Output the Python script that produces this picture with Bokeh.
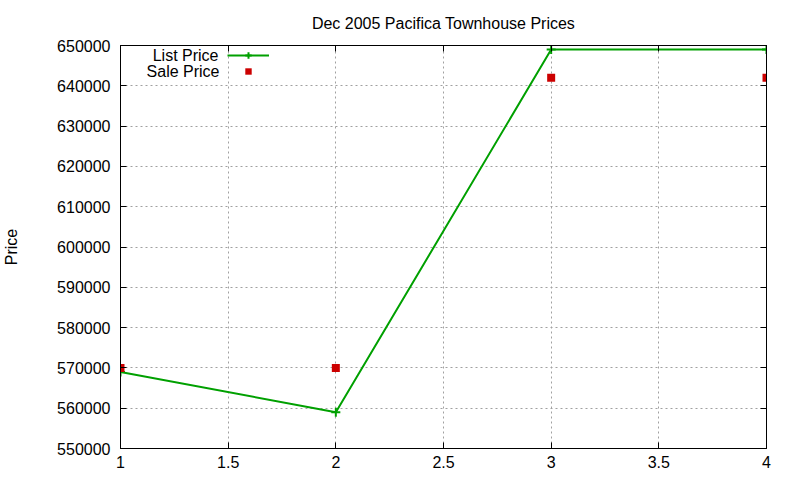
from bokeh.plotting import figure
from bokeh.models import (LinearAxis, FixedTicker, Legend, LegendItem, Label,
                          CustomJSTickFormatter, Range1d)
from bokeh.embed import file_html
from bokeh.resources import INLINE

# ---- data ----
positions = [1, 2, 3, 4]
list_price = [569000, 559000, 649000, 649000]
sale_price = [570000, 570000, 642000, 642000]

x_ticks = [1, 1.5, 2, 2.5, 3, 3.5, 4]
x_tick_labels = ["1", "1.5", "2", "2.5", "3", "3.5", "4"]
y_ticks = [550000, 560000, 570000, 580000, 590000, 600000,
           610000, 620000, 630000, 640000, 650000]
y_tick_labels = [str(v) for v in y_ticks]

title_text = "Dec 2005 Pacifica Townhouse Prices"
y_label = "Price"
series_names = ["List Price", "Sale Price"]

FONT = "Liberation Sans"
FS = "16px"
GREEN = "#00a000"
RED = "#cc0000"

p = figure(width=800, height=480, output_backend="svg", toolbar_location=None,
           x_range=Range1d(1, 4), y_range=Range1d(550000, 650000),
           min_border_left=118, min_border_right=34, min_border_top=45,
           min_border_bottom=32, x_axis_location=None, y_axis_location=None)

p.title.text = title_text
p.title.text_font = FONT
p.title.text_font_size = FS
p.title.text_font_style = "normal"
p.title.text_color = "black"
p.title.align = "center"
p.title.vertical_align = "top"
p.title.standoff = 24

p.outline_line_color = "black"
p.outline_line_width = 1
p.background_fill_color = "white"
p.border_fill_color = "white"

def make_axis(cls, ticks, labels, show):
    ax = cls(ticker=FixedTicker(ticks=ticks))
    ax.major_tick_in = 6
    ax.major_tick_out = 0
    ax.minor_tick_in = 0
    ax.minor_tick_out = 0
    ax.axis_line_color = "black"
    ax.major_tick_line_color = "black"
    if show:
        ax.major_label_overrides = {t: l for t, l in zip(ticks, labels)}
        ax.major_label_text_font = FONT
        ax.major_label_text_font_size = FS
        ax.major_label_text_color = "black"
    else:
        ax.formatter = CustomJSTickFormatter(code="return ''")
        ax.major_label_standoff = 0
    return ax

xb = make_axis(LinearAxis, x_ticks, x_tick_labels, True)
xb.major_label_standoff = 7
p.add_layout(xb, "below")
yl = make_axis(LinearAxis, y_ticks, y_tick_labels, True)
yl.major_label_standoff = 10
yl.axis_label = y_label
yl.axis_label_text_font = FONT
yl.axis_label_text_font_size = FS
yl.axis_label_text_font_style = "normal"
yl.axis_label_text_color = "black"
yl.axis_label_standoff = 34
p.add_layout(yl, "left")
p.add_layout(make_axis(LinearAxis, x_ticks, x_tick_labels, False), "above")
p.add_layout(make_axis(LinearAxis, y_ticks, y_tick_labels, False), "right")

p.xgrid.ticker = FixedTicker(ticks=x_ticks)
p.ygrid.ticker = FixedTicker(ticks=y_ticks)
for g in (p.xgrid, p.ygrid):
    g.grid_line_color = "#a0a0a0"
    g.grid_line_dash = "2 3"
    g.grid_line_width = 1

line_r = p.line(positions, list_price, line_color=GREEN, line_width=2)
plus_r = p.scatter(positions, list_price, marker="cross", size=9,
                   line_color=GREEN, line_width=2)
sq_r = p.scatter(positions, sale_price, marker="square", size=8,
                 fill_color=RED, line_color=None)

legend = Legend(items=[LegendItem(label=series_names[0], renderers=[line_r, plus_r]),
                       LegendItem(label=series_names[1], renderers=[sq_r])],
                location=(107, 369), margin=0, padding=0, spacing=0,
                glyph_width=42, glyph_height=16, label_height=16, label_width=0,
                label_standoff=0, label_text_font_size="1px", label_text_alpha=0,
                border_line_color=None, background_fill_alpha=0)
p.add_layout(legend)

for i, name in enumerate(series_names):
    p.add_layout(Label(x=98 + i, y=393 - 16 * i, x_units="screen", y_units="screen",
                       text=name, text_align="right", text_baseline="middle",
                       text_font=FONT, text_font_size=FS, text_color="black"))

open("out.html", "w").write(file_html(p, INLINE))
